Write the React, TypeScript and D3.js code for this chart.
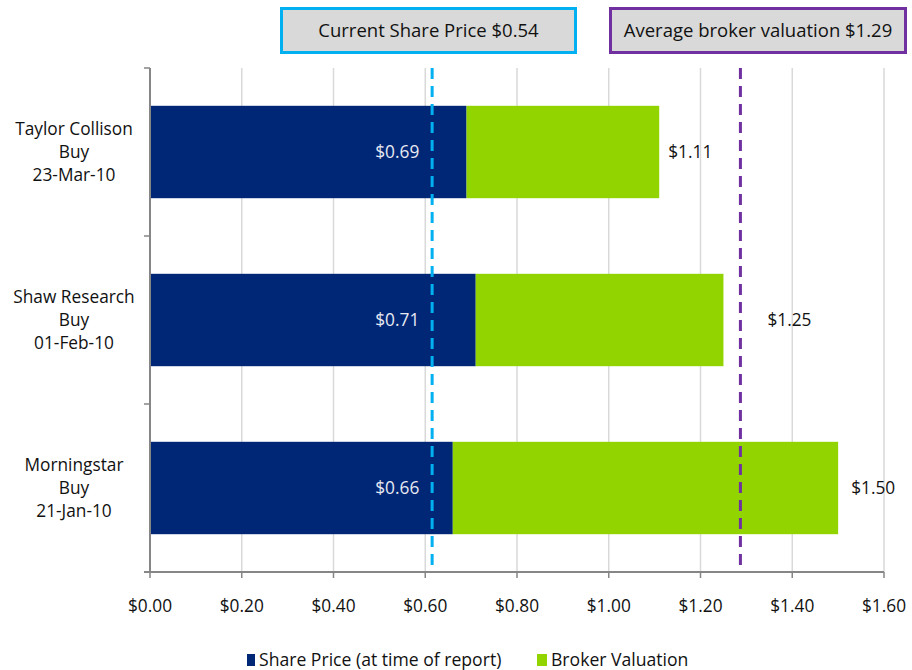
import * as d3 from "d3";

// Broker rows, top to bottom
const brokers = ["Taylor Collison", "Shaw Research", "Morningstar"];
const ratings = ["Buy", "Buy", "Buy"];
const reportDates = ["23-Mar-10", "01-Feb-10", "21-Jan-10"];
const sharePrices = [0.69, 0.71, 0.66];
const valuations = [1.11, 1.25, 1.5];

// Reference lines (positions as drawn) and their captions
const currentLineAt = 0.615;
const averageLineAt = 1.287;
const currentCaption = "Current Share Price $0.54";
const averageCaption = "Average broker valuation $1.29";

const xTicks = [0, 0.2, 0.4, 0.6, 0.8, 1.0, 1.2, 1.4, 1.6];
const legendLabels = ["Share Price (at time of report)", "Broker Valuation"];

const W = 912;
const H = 670;
const margin = { top: 68, right: 28, bottom: 98, left: 150 };

const NAVY = "#002776";
const GREEN = "#92D400";
const AXIS = "#868686";
const GRID = "#d9d9d9";
const FONT = "'Open Sans', 'Liberation Sans', Arial, sans-serif";
const FS = 17.3;

// manual nudges for the outside labels, like the source
const outsideGap = [9, 44, 13];

const fmt = (v: number) => `$${v.toFixed(2)}`;

export default function App() {
  const x = d3
    .scaleLinear()
    .domain([0, 1.6])
    .range([margin.left, W - margin.right]);
  const y = d3
    .scaleBand<string>()
    .domain(brokers)
    .range([margin.top, H - margin.bottom])
    .paddingInner(0.45)
    .paddingOuter(0.225);

  const top = margin.top;
  const bottom = H - margin.bottom;
  const bandEdges = [top, ...brokers.map(b => (y(b) as number) + y.bandwidth() + (y.step() - y.bandwidth()) / 2)];

  return (
    <svg width={W} height={H} style={{ position: "absolute", left: 0, top: 0 }} fontFamily={FONT}>
      {/* grid */}
      {xTicks.slice(1).map(t => (
        <line key={t} x1={x(t)} x2={x(t)} y1={top} y2={bottom} stroke={GRID} strokeWidth={1.5} />
      ))}

      {/* bars */}
      {brokers.map((b, i) => {
        const y0 = y(b) as number;
        const h = y.bandwidth();
        const cy = y0 + h / 2;
        return (
          <g key={b}>
            <rect x={x(0)} y={y0} width={x(sharePrices[i]) - x(0)} height={h} fill={NAVY} />
            <rect x={x(sharePrices[i])} y={y0} width={x(valuations[i]) - x(sharePrices[i])} height={h} fill={GREEN} />
            <text x={x(0.587)} y={cy} dy="0.35em" textAnchor="end" fontSize={FS} fill="#e8eaf2">
              {fmt(sharePrices[i])}
            </text>
            <text x={x(valuations[i]) + outsideGap[i]} y={cy} dy="0.35em" fontSize={FS} fill="#111">
              {fmt(valuations[i])}
            </text>
            <text textAnchor="middle" fontSize={FS} fill="#111">
              {[brokers[i], ratings[i], reportDates[i]].map((s, k) => (
                <tspan key={k} x={74} y={cy - 23 + k * 23} dy="0.35em">
                  {s}
                </tspan>
              ))}
            </text>
          </g>
        );
      })}

      {/* reference lines */}
      <line x1={x(currentLineAt)} x2={x(currentLineAt)} y1={top} y2={bottom} stroke="#00B0F0" strokeWidth={3} strokeDasharray="11 7" />
      <line x1={x(averageLineAt)} x2={x(averageLineAt)} y1={top} y2={bottom} stroke="#7030A0" strokeWidth={3} strokeDasharray="11 7" />

      {/* axes */}
      <line x1={x(0)} x2={x(0)} y1={top} y2={bottom} stroke={AXIS} strokeWidth={2} />
      {bandEdges.map((e, i) => (
        <line key={i} x1={x(0) - 6} x2={x(0)} y1={e} y2={e} stroke={AXIS} strokeWidth={1.5} />
      ))}
      <line x1={x(0) - 6} x2={x(1.6)} y1={bottom} y2={bottom} stroke={AXIS} strokeWidth={2} />
      {xTicks.map(t => (
        <g key={t}>
          <line x1={x(t)} x2={x(t)} y1={bottom} y2={bottom + 6} stroke={AXIS} strokeWidth={1.5} />
          <text x={x(t)} y={bottom + 34} dy="0.35em" textAnchor="middle" fontSize={FS} fill="#111">
            {fmt(t)}
          </text>
        </g>
      ))}

      {/* caption boxes */}
      <rect x={281.5} y={8.5} width={294} height={44} fill="#d9d9d9" stroke="#00B0F0" strokeWidth={3} />
      <text x={428.5} y={31} dy="0.35em" textAnchor="middle" fontSize={18.5} fill="#111">
        {currentCaption}
      </text>
      <rect x={610.5} y={8.5} width={295} height={44} fill="#d9d9d9" stroke="#7030A0" strokeWidth={3} />
      <text x={758} y={31} dy="0.35em" textAnchor="middle" fontSize={18.5} fill="#111">
        {averageCaption}
      </text>

      {/* legend */}
      <rect x={247} y={654} width={8} height={12} fill={NAVY} />
      <text x={259} y={660} dy="0.35em" fontSize={17.6} fill="#111">
        {legendLabels[0]}
      </text>
      <rect x={537} y={654} width={10} height={12} fill={GREEN} />
      <text x={551} y={660} dy="0.35em" fontSize={17.6} fill="#111">
        {legendLabels[1]}
      </text>
    </svg>
  );
}
